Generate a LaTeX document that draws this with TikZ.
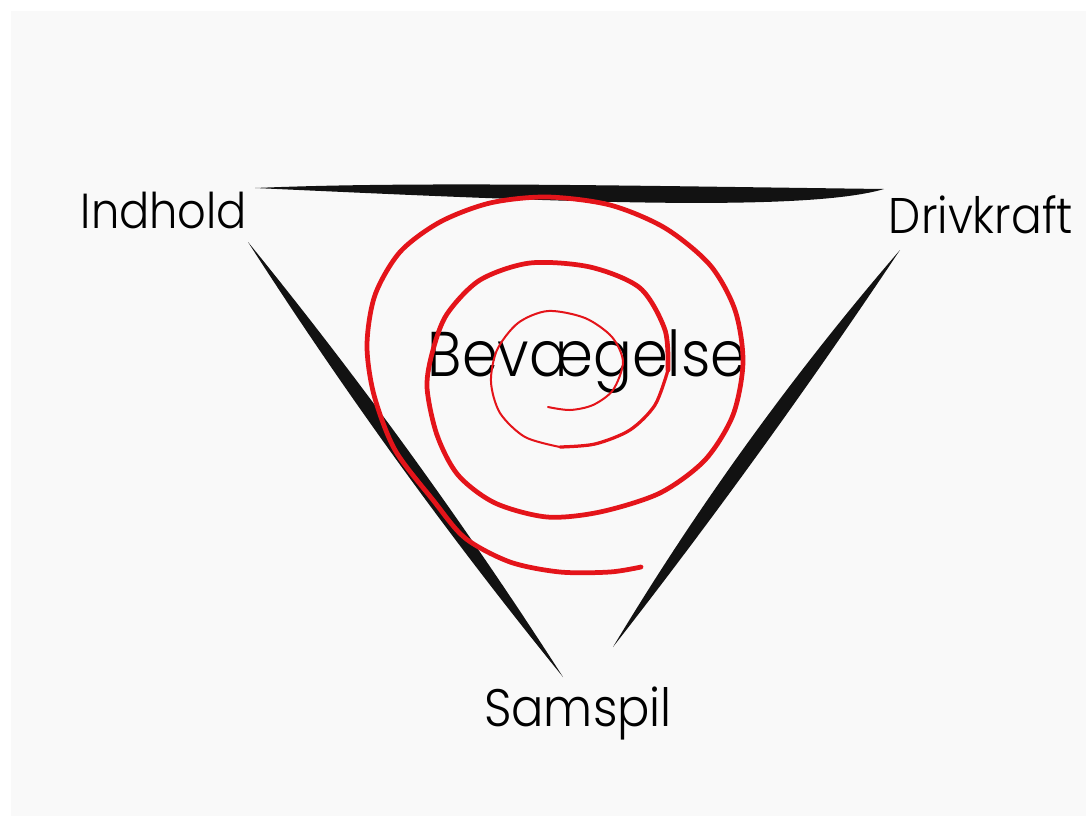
\documentclass[tikz,border=0pt]{standalone}
\usepackage{fontspec}
\setmainfont{Poppins}[UprightFont=* Light,FakeStretch=0.91]
\usepackage{tikz}
\definecolor{papir}{RGB}{249,249,249}
\definecolor{spiralrod}{RGB}{228,20,26}

\begin{document}
\begin{tikzpicture}[x=0.2mm,y=-0.2mm,
    ord/.style={inner sep=0pt,anchor=base},
    pensel/.style={fill=black!93,draw=none},
    spiral/.style={draw=spiralrod,line cap=round,line join=round}]
    \useasboundingbox (0,0) rectangle (1086,816);
    \fill[white] (0,0) rectangle (1086,816);
    \fill[papir] (11,11) rectangle (1086,816);
    % hjoerner
    \node[ord,font=\fontsize{28}{30}\selectfont] (indhold) at (164,228) {Indhold};
    \node[ord,font=\fontsize{28.5}{30}\selectfont] (drivkraft) at (981,233) {Drivkraft};
    \node[ord,font=\fontsize{30}{32}\selectfont] (samspil) at (578,726) {Samspil};
    \node[ord,font=\fontsize{36}{38}\selectfont] (bevaegelse) at (587,376) {Bevægelse};
    % penselstroeg
    \coordinate (topV) at (255,188);
    \coordinate (topH) at (884,189);
    \coordinate (venO) at (248,242);
    \coordinate (venN) at (563,677);
    \coordinate (hojO) at (900,250);
    \coordinate (hojN) at (613,647);
    \fill[pensel] (topV) .. controls (420,181) and (640,186) .. (topH)
        .. controls (800,214) and (520,200) .. (topV);
    \fill[pensel] (venO) .. controls (361.1,381.1) and (466.1,526.1) .. (venN)
        .. controls (449.9,537.9) and (344.9,392.9) .. (venO);
    \fill[pensel] (hojO) .. controls (809.2,385.8) and (713.6,518.2) .. (hojN)
        .. controls (697.4,506.5) and (793,374.1) .. (hojO);
    % spiralen
    \draw[spiral,line width=0.95mm] plot[smooth] coordinates {(641,567) (610,572) (560,572)
        (510,562) (465,538) (433,500) (395,450) (374,395) (367,345) (375,295) (400,252)
        (440,222) (490,203) (547,197) (610,205) (665,228) (710,265) (735,310) (743,362)
        (733,415) (705,460) (660,493) (600,512) (547,517) (495,503) (458,475) (437,435)
        (427,387) (433,350) (447,314) (480,280) (530,263) (590,267) (640,288) (665,330)
        (668,370)};
    \draw[spiral,line width=0.65mm] plot[smooth] coordinates {(668,370) (655,405)
        (630,430) (595,444) (560,447)};
    \draw[spiral,line width=0.4mm] plot[smooth] coordinates {(560,447) (525,437)
        (500,413) (491,382) (497,350) (518,323) (548,311) (585,318) (612,337) (623,362)
        (613,390) (593,405) (570,410) (548,407)};
\end{tikzpicture}
\end{document}
